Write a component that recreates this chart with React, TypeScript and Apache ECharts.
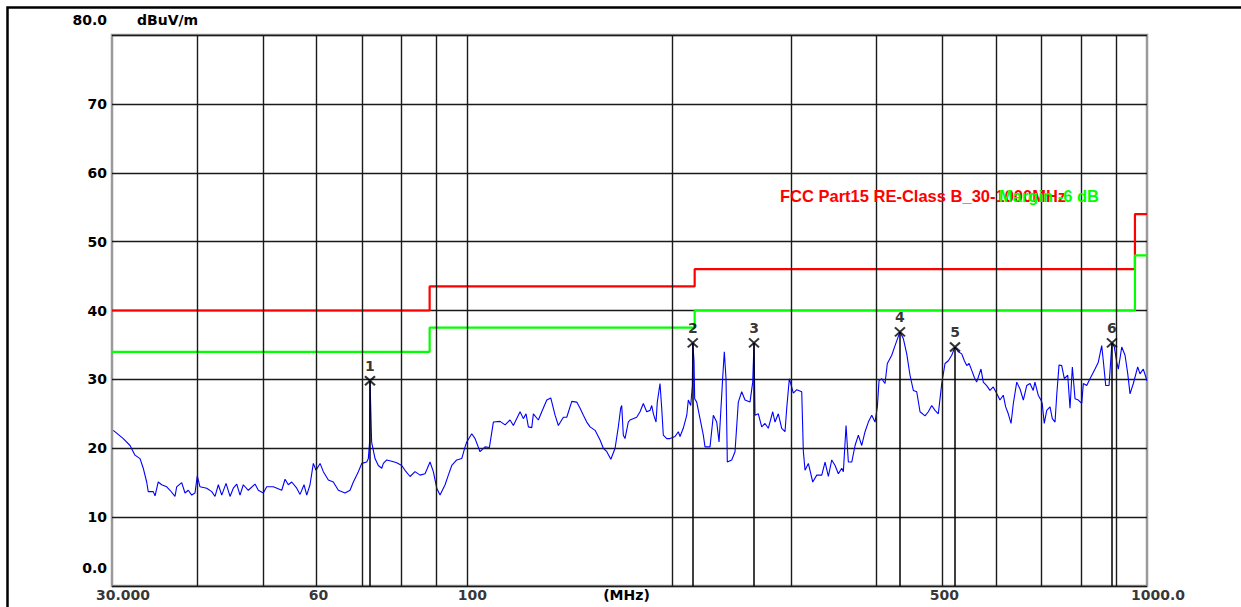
import React, { useEffect, useRef } from "react";
import * as echarts from "echarts";

// ---- data: [frequency MHz, level dBuV/m] ----
const TRACE_POINTS: number[][] = [
  [30.13, 22.6], [31.17, 21.4], [31.89, 20.4], [32.43, 19.0], [32.99, 18.5], [33.35, 17.1], [33.74, 15.1], [33.92, 13.7],
  [34.5, 13.7], [34.71, 13.1], [35.09, 15.1], [35.5, 14.7], [36.11, 14.4], [36.52, 13.9], [37.14, 13.0], [37.35, 14.4],
  [37.99, 15.0], [38.42, 13.5], [38.85, 13.9], [39.3, 13.2], [39.74, 13.5], [40.05, 16.0], [40.42, 14.4], [41.35, 14.2],
  [42.06, 13.7], [42.53, 13.0], [43.01, 14.7], [43.51, 13.2], [44.15, 14.9], [44.75, 13.0], [45.25, 14.2], [45.78, 14.8],
  [46.29, 13.2], [46.81, 14.7], [47.61, 13.9], [48.7, 14.8], [49.25, 13.9], [50.09, 13.5], [50.67, 14.4], [51.82, 14.4],
  [53.32, 13.9], [53.92, 15.5], [54.52, 14.7], [55.15, 15.1], [56.1, 14.2], [56.73, 13.3], [57.5, 14.7], [58.03, 13.2],
  [58.68, 14.7], [59.34, 17.8], [59.89, 16.8], [60.71, 17.8], [61.39, 16.6], [62.44, 15.4], [63.5, 15.1], [64.59, 13.9],
  [66.07, 13.5], [67.2, 13.9], [67.96, 15.1], [69.12, 16.6], [69.92, 17.8], [71.11, 18.0], [71.5, 18.5], [71.8, 20.9],
  [71.91, 29.8], [72.3, 20.9], [73.14, 18.5], [73.96, 17.5], [74.82, 17.1], [75.23, 17.8], [76.1, 18.3], [77.4, 18.1],
  [78.72, 17.9], [80.06, 17.5], [80.96, 16.8], [82.35, 15.9], [83.75, 16.6], [85.19, 16.1], [86.64, 16.3], [88.12, 18.0],
  [89.11, 16.6], [90.15, 14.2], [91.16, 13.2], [92.72, 14.7], [93.76, 16.1], [94.85, 17.5], [96.47, 18.3], [98.12, 18.5],
  [99.22, 20.2], [99.79, 20.9], [101.5, 22.1], [102.64, 21.4], [104.39, 19.5], [106.18, 20.2], [107.74, 20.1],
  [109.21, 23.8], [111.72, 23.9], [113.63, 23.4], [115.57, 24.1], [116.87, 23.3], [119.55, 25.3], [120.89, 24.3],
  [122.0, 25.0], [122.96, 23.1], [124.38, 23.0], [125.06, 25.0], [127.2, 24.1], [128.67, 25.3], [130.87, 27.0],
  [132.65, 27.3], [134.6, 24.8], [136.11, 23.3], [138.44, 24.5], [140.04, 24.5], [142.44, 26.8], [144.87, 26.7],
  [146.5, 25.8], [148.15, 24.8], [149.86, 23.8], [151.55, 23.1], [154.14, 22.6], [156.77, 21.2], [158.5, 20.0],
  [160.4, 19.5], [162.6, 18.4], [164.95, 20.0], [166.77, 23.1], [168.1, 25.8], [168.7, 26.2], [169.62, 21.9],
  [170.6, 21.4], [172.5, 23.8], [173.51, 24.1], [177.49, 24.5], [179.5, 25.3], [181.5, 26.5], [183.61, 25.3],
  [185.7, 25.5], [186.75, 26.2], [187.8, 25.0], [189.5, 23.8], [190.3, 26.7], [192.07, 29.4], [193.18, 25.8],
  [194.23, 21.9], [196.5, 21.4], [198.69, 21.4], [202.09, 21.7], [204.35, 22.4], [205.54, 21.7], [207.8, 22.9],
  [210.3, 24.8], [211.4, 27.0], [213.13, 26.2], [214.3, 29.1], [214.6, 35.3], [215.52, 32.7], [216.0, 27.2],
  [217.5, 26.7], [219.95, 24.3], [222.42, 21.9], [223.7, 20.2], [227.53, 20.2], [230.09, 24.8], [232.75, 23.8],
  [234.6, 20.9], [237.53, 30.3], [238.82, 34.0], [240.2, 30.1], [241.26, 18.0], [244.88, 18.3], [247.63, 19.5],
  [250.42, 26.7], [253.32, 28.2], [256.17, 27.0], [260.54, 26.7], [262.94, 29.6], [264.1, 35.3], [264.99, 24.8],
  [267.98, 25.0], [271.08, 23.1], [274.13, 23.6], [277.21, 22.9], [281.37, 25.3], [283.57, 23.8], [286.76, 25.0],
  [290.08, 22.9], [293.35, 22.4], [295.04, 25.8], [297.67, 30.1], [301.73, 28.0], [305.23, 28.5], [310.44, 28.2],
  [312.13, 19.6], [313.94, 16.8], [317.47, 17.8], [322.24, 15.1], [326.65, 16.1], [332.23, 16.1], [335.96, 18.0],
  [339.74, 15.9], [343.68, 18.3], [347.55, 17.5], [351.45, 16.3], [355.53, 17.1], [357.46, 16.6], [360.74, 23.3],
  [363.56, 18.0], [367.77, 18.0], [371.91, 20.4], [376.09, 21.9], [380.43, 20.4], [384.71, 22.4], [389.04, 23.8],
  [393.54, 24.8], [397.96, 23.8], [401.07, 26.0], [403.39, 29.8], [407.09, 30.1], [411.66, 29.4], [414.89, 32.3],
  [421.13, 33.5], [425.87, 34.9], [433.0, 36.9], [438.01, 35.9], [443.08, 33.7], [448.05, 30.6], [453.09, 28.4],
  [458.33, 28.2], [463.49, 25.3], [471.42, 24.7], [476.72, 25.3], [482.24, 26.2], [487.65, 25.5], [493.14, 25.0],
  [495.99, 27.2], [498.86, 29.4], [504.47, 32.3], [510.14, 32.7], [516.05, 33.5], [521.8, 34.7], [527.72, 34.0],
  [533.83, 33.7], [538.6, 32.7], [543.0, 32.0], [547.3, 32.3], [552.24, 31.3], [557.0, 30.3], [561.5, 29.6],
  [569.8, 31.5], [574.3, 29.6], [580.9, 29.1], [587.4, 28.4], [594.0, 28.9], [602.9, 27.7], [607.6, 27.0],
  [614.5, 27.7], [619.5, 26.0], [625.0, 25.0], [630.88, 23.6], [635.81, 26.5], [643.17, 29.6], [650.41, 28.6],
  [657.71, 27.0], [665.33, 29.1], [672.81, 29.4], [680.1, 28.4], [684.1, 29.6], [691.8, 27.7], [698.1, 27.0],
  [701.2, 26.5], [706.0, 23.6], [711.97, 25.5], [719.96, 26.0], [725.6, 24.3], [732.28, 23.8], [736.5, 27.7],
  [742.3, 32.1], [749.08, 32.0], [755.7, 30.1], [764.5, 30.6], [770.42, 25.8], [776.5, 31.8], [783.6, 27.2],
  [792.4, 27.0], [801.6, 26.5], [806.0, 29.4], [815.26, 29.1], [824.43, 30.1], [838.53, 31.5], [847.95, 32.5],
  [857.77, 34.9], [862.4, 32.7], [869.5, 29.1], [879.3, 29.1], [888.0, 35.3], [895.2, 34.7], [902.53, 32.5],
  [907.5, 31.5], [918.0, 34.7], [928.3, 33.5], [936.9, 30.8], [944.12, 27.9], [954.74, 29.4], [969.0, 31.8],
  [976.66, 30.8], [987.5, 31.5], [1000.0, 29.8],
];

const LIMIT_EDGES = [30, 88, 216, 960, 1000];
const LIMIT_LEVELS = [40, 43.5, 46, 54, 54];
const MARGIN_LEVELS = [34, 37.5, 40, 48, 48];

const MARKER_NAMES = ["1", "2", "3", "4", "5", "6"];
const MARKER_FREQ = [71.9, 214.6, 264.1, 433.0, 521.8, 888.0];
const MARKER_LEVEL = [29.8, 35.3, 35.3, 36.9, 34.7, 35.3];

const GRID_FREQ = [40, 50, 60, 70, 80, 90, 100, 200, 300, 400, 500, 600, 700, 800, 900];
const X_TICK_FREQ = [30, 60, 100, 500, 1000];
const X_TICK_LABELS = ["30.000", "60", "100", "500", "1000.0"];
const Y_TICK_VALUES = [0, 10, 20, 30, 40, 50, 60, 70, 80];
const Y_TICK_LABELS = ["0.0", "10", "20", "30", "40", "50", "60", "70", "80.0"];

const LIMIT_NAME = "FCC Part15 RE-Class B_30-1000MHz";
const MARGIN_NAME = "Margin -6 dB";

// ---- styles ----
const AXIS_FONT = '"DejaVu Sans", sans-serif';
const LEGEND_FONT = '"Liberation Sans", Arial, sans-serif';
const X_LABEL_SHIFT: Record<string, number> = { "30.000": 11, "60": 2, "100": 5, "500": 2, "1000.0": 11 };

export default function App() {
  const ref = useRef<HTMLDivElement>(null);

  useEffect(() => {
    if (!ref.current) return;
    const chart = echarts.init(ref.current, undefined, { renderer: "svg" });

    const limit = LIMIT_EDGES.map((f, i) => [f, LIMIT_LEVELS[i]]);
    const margin = LIMIT_EDGES.map((f, i) => [f, MARGIN_LEVELS[i]]);
    const axisText = { fontFamily: AXIS_FONT, fontWeight: "bold", fontSize: 14, color: "#000" };

    chart.setOption({
      animation: false,
      backgroundColor: "#ffffff",
      title: [
        {
          text: LIMIT_NAME,
          left: 780,
          top: 187,
          padding: 0,
          textStyle: { color: "#ff0000", fontFamily: LEGEND_FONT, fontWeight: "bold", fontSize: 16.5 },
        },
        {
          text: MARGIN_NAME,
          left: 999,
          top: 187,
          padding: 0,
          textStyle: { color: "#00ff00", fontFamily: LEGEND_FONT, fontWeight: "bold", fontSize: 16.5 },
        },
      ],
      graphic: [
        {
          type: "polyline",
          shape: { points: [[7.5, 607], [7.5, 7.5], [1241, 7.5]] },
          style: { stroke: "#000", lineWidth: 2.5, fill: "none" },
          silent: true,
        },
      ],
      grid: {
        left: 112,
        right: 94,
        top: 35,
        bottom: 19,
        show: true,
        borderColor: "#9a9a9a",
        borderWidth: 2.5,
        backgroundColor: "transparent",
        containLabel: false,
      },
      xAxis: {
        type: "log",
        logBase: 10,
        min: 30,
        max: 1000,
        axisLine: { show: false },
        axisTick: { show: false },
        axisLabel: { show: false },
        splitLine: { show: false },
        minorTick: { show: false },
        minorSplitLine: { show: false },
        name: "(MHz)",
        nameLocation: "middle",
        nameGap: 2,
        nameTextStyle: { ...axisText, verticalAlign: "top", padding: [0, 6, 0, 0] },
      },
      yAxis: {
        type: "value",
        min: 0,
        max: 80,
        interval: 10,
        axisLine: { show: false },
        axisTick: { show: false },
        splitLine: { show: true, lineStyle: { color: "#1a1a1a", width: 1.4 } },
        axisLabel: {
          margin: 5,
          formatter: (v: number) => {
            const i = Y_TICK_VALUES.indexOf(v);
            const t = i >= 0 ? Y_TICK_LABELS[i] : "";
            if (v === 80) return "{hi|" + t + "}";
            if (v === 0) return "{lo|" + t + "}";
            return "{n|" + t + "}";
          },
          rich: {
            n: { ...axisText },
            hi: { ...axisText, padding: [0, 0, 30, 0] },
            lo: { ...axisText, padding: [0, 0, 36, 0] },
          },
        },
        name: "dBuV/m",
        nameLocation: "end",
        nameGap: 15,
        nameTextStyle: { ...axisText, align: "left", verticalAlign: "middle", padding: [0, 0, 0, 25] },
      },
      series: [
        {
          name: "ticks",
          type: "scatter",
          z: 1,
          symbol: "circle",
          symbolSize: 1,
          itemStyle: { color: "transparent" },
          silent: true,
          data: X_TICK_FREQ.map((f, i) => ({
            value: [f, 0],
            label: { formatter: X_TICK_LABELS[i], offset: [X_LABEL_SHIFT[X_TICK_LABELS[i]] || 0, 0] },
          })),
          label: { show: true, position: "bottom", distance: 1, ...axisText },
          markLine: {
            silent: true,
            symbol: "none",
            label: { show: false },
            lineStyle: { color: "#1a1a1a", width: 1.4, type: "solid" },
            data: GRID_FREQ.map((f) => ({ xAxis: f })),
          },
        },
        {
          name: LIMIT_NAME,
          type: "line",
          z: 3,
          step: "end",
          showSymbol: false,
          data: limit,
          lineStyle: { color: "#ff0000", width: 2.2 },
        },
        {
          name: MARGIN_NAME,
          type: "line",
          z: 3,
          step: "end",
          showSymbol: false,
          data: margin,
          lineStyle: { color: "#00ff00", width: 2.2 },
        },
        {
          name: "trace",
          type: "line",
          z: 4,
          showSymbol: false,
          data: TRACE_POINTS,
          lineStyle: { color: "#0000ff", width: 1.1 },
        },
        {
          name: "markers",
          type: "scatter",
          z: 6,
          symbol: "path://M0,0L10,10M10,0L0,10",
          symbolSize: [10, 9],
          itemStyle: { color: "none", borderColor: "#000", borderWidth: 2 },
          data: MARKER_FREQ.map((f, i) => ({ value: [f, MARKER_LEVEL[i]], name: MARKER_NAMES[i] })),
          label: { show: true, position: "top", distance: 1, formatter: "{b}", ...axisText },
          markLine: {
            silent: true,
            symbol: "none",
            label: { show: false },
            lineStyle: { color: "#000", width: 1.5, type: "solid" },
            data: MARKER_FREQ.map((f, i) => [{ coord: [f, 0] }, { coord: [f, MARKER_LEVEL[i]] }]),
          },
        },
      ],
    });

    return () => chart.dispose();
  }, []);

  return (
    <div
      ref={ref}
      style={{ position: "fixed", left: 0, top: 0, width: 1241, height: 607, background: "#fff" }}
    />
  );
}
